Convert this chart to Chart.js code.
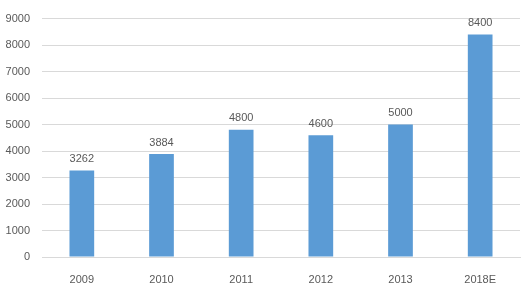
<!DOCTYPE html>
<html>
<head>
<meta charset="utf-8">
<script src="https://cdn.jsdelivr.net/npm/chart.js@4"></script>
<style>
  html, body { margin: 0; padding: 0; background: #fff; }
  #wrap { width: 523px; height: 283px; }
</style>
</head>
<body>
<div id="wrap"><canvas id="chart" width="523" height="283"></canvas></div>
<script>
// Dados do gráfico
const years = ['2009', '2010', '2011', '2012', '2013', '2018E'];
const values = [3262, 3884, 4800, 4600, 5000, 8400];
const yTicks = [0, 1000, 2000, 3000, 4000, 5000, 6000, 7000, 8000, 9000];

const textColor = '#595959';
const fontFamily = "'Liberation Sans', Arial, sans-serif";

// Rótulos de valor acima das barras
const valueLabels = {
    id: 'valueLabels',
    afterDatasetsDraw(chart) {
        const ctx = chart.ctx;
        const meta = chart.getDatasetMeta(0);
        ctx.save();
        ctx.fillStyle = textColor;
        ctx.font = '11px ' + fontFamily;
        ctx.textAlign = 'center';
        ctx.textBaseline = 'bottom';
        meta.data.forEach((bar, i) => {
            ctx.fillText(values[i], bar.x, bar.y - 6);
        });
        ctx.restore();
    }
};

new Chart(document.getElementById('chart'), {
    type: 'bar',
    data: {
        labels: years,
        datasets: [{
            data: values,
            backgroundColor: '#5B9BD5',
            categoryPercentage: 1,
            barPercentage: 0.31
        }]
    },
    options: {
        responsive: false,
        animation: false,
        layout: { padding: { top: 14, right: 3, left: 0, bottom: 0 } },
        plugins: {
            legend: { display: false },
            tooltip: { enabled: false }
        },
        scales: {
            x: {
                grid: { display: false },
                border: { color: '#d9d9d9' },
                ticks: { color: textColor, font: { family: fontFamily, size: 11 }, padding: 8 },
                afterFit(scale) { scale.height = 26; }
            },
            y: {
                min: 0,
                max: 9000,
                afterBuildTicks(scale) { scale.ticks = yTicks.map(v => ({ value: v })); },
                grid: { color: '#d9d9d9', drawTicks: false },
                border: { display: false },
                ticks: {
                    color: textColor,
                    font: { family: fontFamily, size: 11 },
                    padding: 12,
                    callback: v => String(v)
                },
                afterFit(scale) { scale.width = 42; }
            }
        }
    },
    plugins: [valueLabels]
});
</script>
</body>
</html>
